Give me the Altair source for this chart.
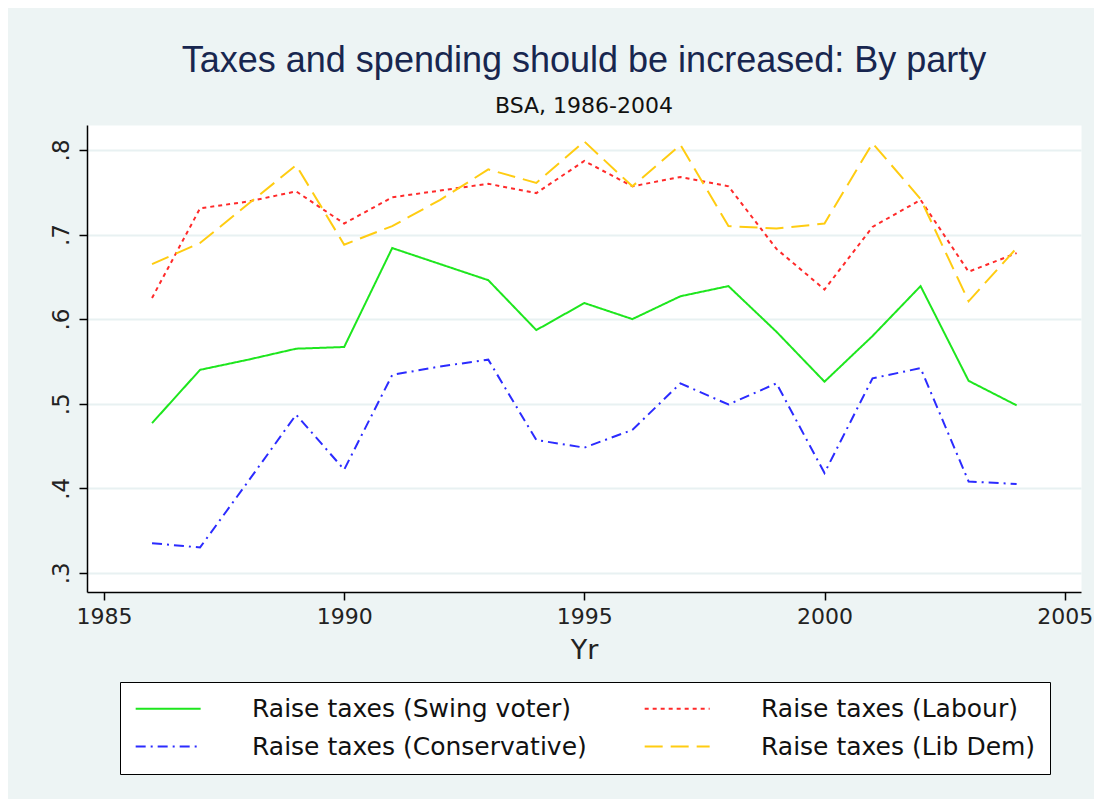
import altair as alt
import pandas as pd

# Survey years and share agreeing that taxes/spending should go up
years = list(range(1986, 2005))
swing = [0.477, 0.540, 0.552, 0.565, 0.567, 0.684, 0.665, 0.646, 0.587, 0.619,
         0.600, 0.627, 0.639, 0.585, 0.526, 0.580, 0.639, 0.527, 0.498]
labour = [0.625, 0.731, 0.739, 0.751, 0.713, 0.744, 0.752, 0.760, 0.749, 0.787,
          0.757, 0.768, 0.757, 0.683, 0.635, 0.709, 0.741, 0.656, 0.678]
conservative = [0.335, 0.330, 0.408, 0.487, 0.422, 0.534, 0.544, 0.552, 0.457, 0.448,
                0.469, 0.524, 0.499, 0.524, 0.418, 0.530, 0.542, 0.408, 0.405]
libdem = [0.665, 0.690, 0.736, 0.782, 0.688, 0.710, 0.741, 0.777, 0.761, 0.810,
          0.757, 0.806, 0.710, 0.707, 0.713, 0.808, 0.742, 0.621, 0.684]

# legend fills column by column, so this order gives
# Swing | Labour on the first row, Conservative | Lib Dem on the second
series_names = [
    "Raise taxes (Swing voter)",
    "Raise taxes (Conservative)",
    "Raise taxes (Labour)",
    "Raise taxes (Lib Dem)",
]
series_values = [swing, conservative, labour, libdem]
line_colors = ["#1EE61E", "#2B2BFF", "#FF2A2A", "#FFCC11"]
line_dashes = [[1, 0], [10, 5, 2, 5], [4, 4], [18, 8]]

x_ticks = [1985, 1990, 1995, 2000, 2005]
y_ticks = [0.3, 0.4, 0.5, 0.6, 0.7, 0.8]

rows = []
for name, vals in zip(series_names, series_values):
    for yr, v in zip(years, vals):
        rows.append({"Yr": yr, "value": v, "series": name})
df = pd.DataFrame(rows)

# a long horizontal stroke that does not make the legend rows tall
legend = alt.Legend(
    title=None,
    orient="none",
    legendX=33,
    legendY=557,
    columns=2,
    symbolType="M-1,0H5",
    symbolSize=469,
    symbolStrokeWidth=2,
    labelOffset=93,
    labelFont="DejaVu Sans",
    labelFontSize=25,
    labelColor="#111111",
    labelLimit=0,
    fillColor="white",
    strokeColor="black",
    padding=14,
    rowPadding=12,
    columnPadding=53,
)

chart = alt.Chart(df).mark_line(strokeWidth=2).encode(
    x=alt.X(
        "Yr:Q",
        title="Yr",
        scale=alt.Scale(domain=[1984.646, 2005.34], nice=False, zero=False),
        axis=alt.Axis(values=x_ticks, format="d", grid=False, titleFontSize=27,
                      titlePadding=10, titleFontWeight="normal", labelFontSize=22),
    ),
    y=alt.Y(
        "value:Q",
        title=None,
        scale=alt.Scale(domain=[0.2773, 0.8295], nice=False, zero=False),
        axis=alt.Axis(values=y_ticks, grid=True, gridColor="#E8F1F2", gridWidth=2,
                      labelExpr="replace(format(datum.value, '.1f'), '0.', '.')",
                      labelAngle=270, labelAlign="center", labelBaseline="bottom"),
    ),
    color=alt.Color("series:N", scale=alt.Scale(domain=series_names, range=line_colors),
                    legend=legend),
    strokeDash=alt.StrokeDash("series:N", scale=alt.Scale(domain=series_names, range=line_dashes),
                              legend=legend),
).properties(
    width=994,
    height=467,
    autosize=alt.AutoSizeParams(type="none"),
    padding={"left": 79, "top": 117, "right": 13, "bottom": 207},
    background="#EDF4F4",
    title=alt.Title(
        "Taxes and spending should be increased: By party",
        subtitle="BSA, 1986-2004",
        font="Liberation Sans",
        fontSize=36,
        fontWeight="normal",
        color="#18264F",
        subtitleFont="DejaVu Sans",
        subtitleFontSize=22,
        subtitleColor="#111111",
        anchor="middle",
        offset=7,
        subtitlePadding=16,
    ),
).configure_axis(
    domainColor="black",
    domainWidth=1.5,
    tickColor="black",
    tickWidth=1.5,
    tickSize=8,
    labelFont="DejaVu Sans",
    labelFontSize=23,
    labelColor="#222222",
    labelPadding=6,
    titleFont="DejaVu Sans",
    titleColor="#222222",
).configure_view(
    fill="white",
    stroke="transparent",
)

chart.save("out.html", embed_options={"renderer": "svg", "actions": False})
